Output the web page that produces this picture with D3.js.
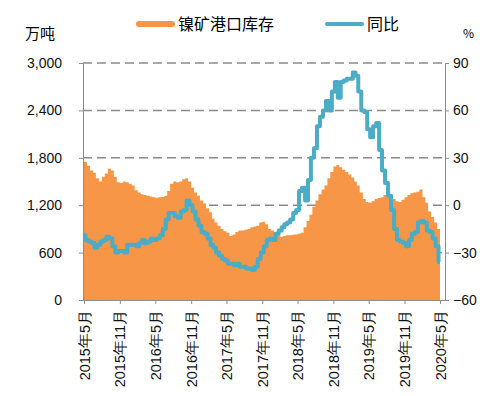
<!DOCTYPE html>
<html>
<head>
<meta charset="utf-8">
<title>镍矿港口库存</title>
<script src="https://cdn.jsdelivr.net/npm/d3@7"></script>
<style>
  body { margin: 0; background: #fff; }
  svg { display: block; font-family: "Noto Sans CJK SC", "Noto Sans", sans-serif; }
  .tick text { fill: #111; font-size: 14px; }
  .xaxis .tick text { font-size: 14.5px; }
  .domain, .tick line { stroke: #8c8c8c; }
</style>
</head>
<body>
<svg width="492" height="396"></svg>
<script>
// half-month observations starting 2015-05
const inventory = [
  1750, 1700, 1640, 1610, 1540, 1500, 1560, 1600, 1660, 1640, 1560, 1490,
  1480, 1500, 1490, 1470, 1450, 1390, 1360, 1340, 1330, 1320, 1310, 1300,
  1295, 1300, 1305, 1320, 1380, 1470, 1500, 1490, 1500, 1530, 1540, 1500,
  1420, 1360, 1320, 1260, 1220, 1160, 1110, 1030, 980, 940, 900, 870,
  850, 810, 830, 860, 880, 880, 890, 900, 920, 930, 940, 980,
  990, 960, 900, 880, 850, 820, 800, 810, 820, 820, 825, 830,
  840, 850, 920, 1000, 1080, 1180, 1260, 1340, 1400, 1450, 1540, 1620,
  1690, 1710, 1680, 1650, 1620, 1590, 1550, 1500, 1450, 1360, 1280, 1240,
  1230, 1250, 1280, 1290, 1300, 1330, 1340, 1310, 1280, 1250, 1240, 1270,
  1300, 1330, 1350, 1360, 1370, 1400, 1300, 1230, 1120, 1050, 980, 900,
  840
];
const yoy = [
  -19, -22, -23, -24, -27, -25, -23, -22, -20, -21, -26, -30,
  -29, -29, -30, -25, -25, -25, -26, -24, -22, -24, -23, -21,
  -22, -21, -19, -15, -9, -5, -5, -7, -8, -4, -3, 3,
  0, -4, -9, -13, -17, -18, -21, -25, -27, -30, -32, -34,
  -35, -37, -37, -38, -37, -39, -39, -40, -40, -41, -39, -34,
  -30, -26, -22, -21, -22, -18, -16, -14, -12, -11, -9, -5,
  -3, 9, 11, 3, 16, 30, 36, 50, 56, 60, 66, 60,
  72, 78, 68, 78, 79, 80, 80, 84, 82, 72, 60, 59,
  48, 43, 50, 52, 35, 22, 14, 6, -3, -15, -22, -23,
  -24, -26, -22, -18, -17, -11, -10, -11, -16, -17, -21, -26,
  -36
];
const leftTicks = [0, 600, 1200, 1800, 2400, 3000];
const rightTicks = [-60, -30, 0, 30, 60, 90];
const seriesNames = ["镍矿港口库存", "同比"];

const dates = inventory.map((_, i) => new Date(2015, 4 + Math.floor(i / 2), i % 2 ? 16 : 1));
const data = dates.map((d, i) => ({date: d, inv: inventory[i], yoy: yoy[i]}));
const tickDates = d3.range(11).map(k => new Date(2015, 4 + k * 6, 1));

const svg = d3.select('svg');
const plot = {left: 83, right: 445, top: 63, bottom: 300};
const orange = '#f79646', blue = '#4bacc6';

const x = d3.scaleTime()
  .domain([new Date(2015, 4, 1), new Date(2020, 4, 1)])
  .range([plot.left + 1, 440]);
const yL = d3.scaleLinear().domain([0, 3000]).range([plot.bottom, plot.top]);
const yR = d3.scaleLinear().domain([-60, 90]).range([plot.bottom, plot.top]);

// dashed grid
svg.append('g')
  .selectAll('line')
  .data(leftTicks.filter(v => v > 0))
  .join('line')
    .attr('x1', plot.left).attr('x2', plot.right)
    .attr('y1', d => yL(d)).attr('y2', d => yL(d))
    .attr('stroke', '#8a8a8a')
    .attr('stroke-width', 1.5)
    .attr('stroke-dasharray', '9,5');

// inventory area
svg.append('path')
  .datum(data)
  .attr('fill', orange)
  .attr('d', d3.area()
    .curve(d3.curveStepAfter)
    .x(d => x(d.date))
    .y0(yL(0))
    .y1(d => yL(d.inv)));

// yoy line
svg.append('path')
  .datum(data)
  .attr('fill', 'none')
  .attr('stroke', blue)
  .attr('stroke-width', 4)
  .attr('stroke-linejoin', 'round')
  .attr('d', d3.line()
    .curve(d3.curveStep)
    .x(d => x(d.date))
    .y(d => yR(d.yoy)));

// axes
svg.append('g')
  .attr('transform', `translate(${plot.left},0)`)
  .call(d3.axisLeft(yL).tickValues(leftTicks).tickSize(4).tickPadding(17).tickFormat(d3.format(',')));

svg.append('g')
  .attr('transform', `translate(${plot.right},0)`)
  .call(d3.axisRight(yR).tickValues(rightTicks).tickSize(4).tickPadding(4).tickFormat(d3.format('d')));

svg.append('g')
  .attr('class', 'xaxis')
  .attr('transform', `translate(0,${plot.bottom})`)
  .call(d3.axisBottom(x).tickValues(tickDates).tickSize(4).tickSizeOuter(0)
    .tickFormat(d3.timeFormat('%Y年%-m月')))
  .call(g => g.select('.domain').attr('d', `M${plot.left},0.5H${plot.right}`))
  .call(g => g.selectAll('text')
    .attr('transform', 'rotate(-90)')
    .attr('text-anchor', 'end')
    .attr('x', -10)
    .attr('y', 0)
    .attr('dy', '0.35em'));

// units
svg.append('text').attr('x', 25).attr('y', 39).attr('font-size', 15).text('万吨');
svg.append('text').attr('x', 463).attr('y', 38).attr('font-size', 12).text('%');

// legend
const legend = [
  {name: seriesNames[0], color: orange, x: 136, h: 6},
  {name: seriesNames[1], color: blue, x: 325, h: 4}
];
const lg = svg.append('g').selectAll('g').data(legend).join('g')
  .attr('transform', d => `translate(${d.x},24)`);
lg.append('rect')
  .attr('width', 39).attr('height', d => d.h)
  .attr('y', d => -d.h / 2).attr('rx', d => d.h / 2)
  .attr('fill', d => d.color);
lg.append('text')
  .attr('x', 42).attr('dy', '0.35em')
  .attr('font-size', 16)
  .text(d => d.name);
</script>
</body>
</html>
